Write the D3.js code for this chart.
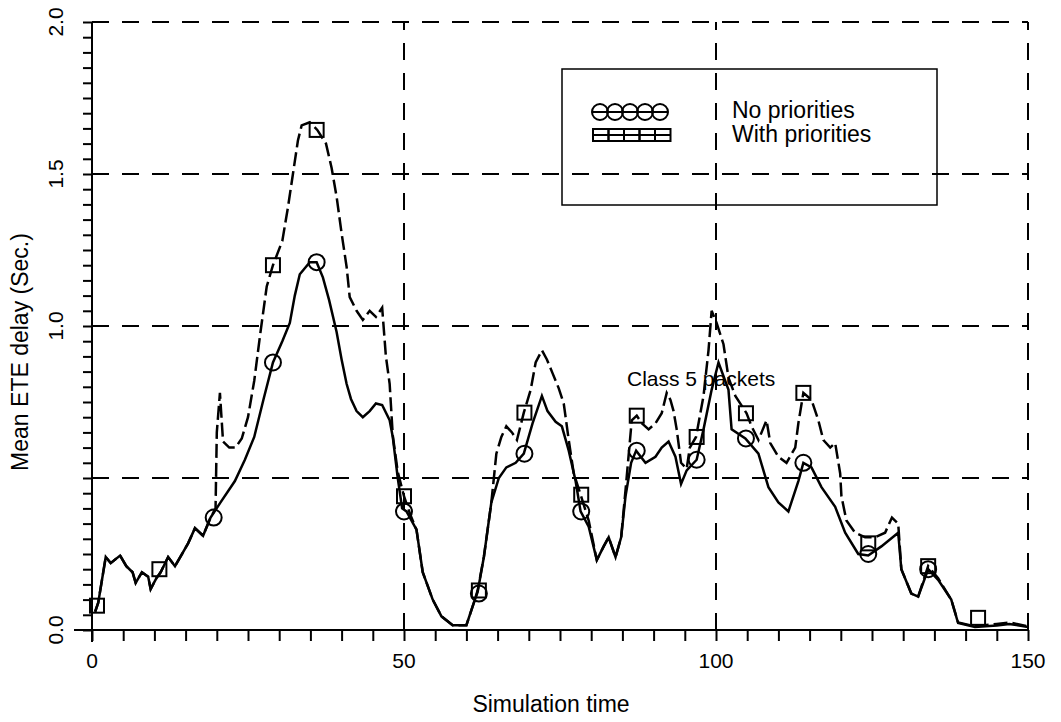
<!DOCTYPE html>
<html lang="en">
<head>
    <meta charset="UTF-8">
    <title>Mean ETE delay - Class 5 packets</title>
    <script src="https://d3js.org/d3.v7.min.js"></script>
    <style>
        body { margin: 0; background: #fff; }
        text { font-family: "Liberation Sans", Arial, Helvetica, sans-serif; fill: #000; }
    </style>
</head>
<body>
    <svg id="chart" width="1061" height="722"></svg>

    <script>
        // --- data ---
        // No priorities (solid line)
        var noPrioT = [0.5, 1, 2.2, 3, 4.5, 5.5, 6.5, 7, 8, 9, 9.4, 10.3, 11, 12.2, 13.3, 15.4, 16.5, 17.8, 19, 20.6,
            22.9, 24.5, 26, 27.5, 29, 30.5, 31.7, 32.5, 33.3, 34.9, 36, 37, 38, 39.2, 40, 40.8, 41.5, 42.4, 43.4, 44.5,
            45.5, 46.5, 47.7, 48.2, 49, 49.7, 50.4, 52, 53, 54.6, 56, 57.8, 60, 61.2, 61.8, 62.8, 64, 65.2, 66.4, 67.9,
            69.2, 70.6, 72.1, 73, 74.3, 75.3, 76.4, 77.5, 78.3, 79.6, 80.9, 82, 82.8, 83.9, 84.8, 85.5, 86.4, 87.2, 88.7, 90.3,
            91.3, 92.4, 93.5, 94.4, 95.3, 96.9, 98, 99.3, 100.4, 102, 102.5, 104.7, 106.8, 108.4, 110, 111.6, 113.2, 114, 115.3, 116.9,
            119.1, 120.7, 122.8, 124.4, 126.5, 129.2, 129.7, 131.3, 132.4, 134, 135.6, 137.7, 138.8, 141.5, 145, 147, 150];
        var noPrioV = [0.06, 0.09, 0.24, 0.22, 0.245, 0.21, 0.19, 0.155, 0.19, 0.175, 0.135, 0.17, 0.19, 0.24, 0.21, 0.285, 0.335, 0.31, 0.37, 0.42,
            0.49, 0.56, 0.635, 0.76, 0.88, 0.95, 1.01, 1.1, 1.17, 1.21, 1.21, 1.16, 1.085, 0.98, 0.89, 0.81, 0.76, 0.72, 0.70, 0.72,
            0.745, 0.74, 0.69, 0.635, 0.5, 0.40, 0.39, 0.33, 0.19, 0.1, 0.045, 0.016, 0.016, 0.09, 0.125, 0.24, 0.42, 0.50, 0.535, 0.55,
            0.58, 0.68, 0.77, 0.72, 0.685, 0.67, 0.59, 0.49, 0.39, 0.34, 0.23, 0.275, 0.305, 0.24, 0.305, 0.44, 0.55, 0.59, 0.55, 0.57,
            0.60, 0.62, 0.57, 0.48, 0.525, 0.56, 0.66, 0.79, 0.88, 0.79, 0.66, 0.63, 0.58, 0.47, 0.42, 0.39, 0.49, 0.55, 0.535, 0.47,
            0.405, 0.32, 0.25, 0.245, 0.275, 0.32, 0.2, 0.12, 0.11, 0.2, 0.165, 0.1, 0.023, 0.01, 0.015, 0.02, 0.01];

        // With priorities (dashed line)
        var withPrioT = [0.5, 1, 2.2, 3, 4.5, 5.5, 6.5, 7, 8, 9, 9.4, 10.3, 11, 12.2, 13.3, 15.4, 16.5, 17.8, 19, 19.8,
            20, 20.5, 21, 22, 23, 24, 25, 26, 27, 28, 29, 30.5, 31.4, 32.2, 33, 33.6, 34.9, 36.1, 37.5, 38.4,
            39.2, 40, 40.8, 41.3, 42.4, 43.4, 44.5, 45.5, 46.5, 47.1, 47.7, 48.2, 49, 50, 51, 52, 53, 54.6, 56, 57.8,
            60, 61.2, 61.8, 62.8, 64, 64.8, 65.6, 66.4, 67.3, 68.1, 69.2, 70.3, 71.1, 72.1, 72.9, 73.8, 74.8, 75.6, 76.4, 77.2,
            78.3, 79.6, 80.9, 82, 82.8, 83.9, 84.8, 85.5, 86.5, 87.3, 88.1, 89.2, 90.3, 91.3, 92.1, 92.7, 93.2, 93.7, 94.4, 95.3,
            95.8, 96.8, 98, 98.8, 99.3, 100.1, 101.2, 102, 103.1, 104.9, 105.7, 106.8, 108.1, 108.7, 110, 111.3, 112.7, 113.2, 114, 115.3,
            116.4, 117.2, 118.3, 119.1, 119.9, 120.1, 120.9, 122.3, 123.9, 125.5, 127.1, 128.2, 129.2, 129.7, 131.3, 132.4, 134, 135.6, 137.7, 138.8,
            141.5, 145, 147, 150];
        var withPrioV = [0.06, 0.09, 0.24, 0.22, 0.245, 0.21, 0.19, 0.155, 0.19, 0.175, 0.135, 0.17, 0.19, 0.24, 0.21, 0.285, 0.335, 0.31, 0.37, 0.40,
            0.65, 0.78, 0.62, 0.6, 0.6, 0.63, 0.7, 0.82, 0.98, 1.13, 1.2, 1.28, 1.39, 1.5, 1.61, 1.66, 1.67, 1.645, 1.6, 1.52,
            1.425, 1.305, 1.195, 1.095, 1.05, 1.02, 1.05, 1.03, 1.06, 0.9, 0.81, 0.64, 0.52, 0.44, 0.38, 0.33, 0.19, 0.1, 0.045, 0.016,
            0.016, 0.09, 0.13, 0.24, 0.42, 0.58, 0.635, 0.67, 0.65, 0.625, 0.715, 0.79, 0.88, 0.92, 0.89, 0.845, 0.795, 0.745, 0.625, 0.515,
            0.445, 0.36, 0.23, 0.275, 0.305, 0.24, 0.305, 0.46, 0.69, 0.705, 0.68, 0.66, 0.68, 0.713, 0.78, 0.757, 0.72, 0.66, 0.55, 0.53,
            0.6, 0.635, 0.77, 0.92, 1.05, 1.01, 0.94, 0.83, 0.77, 0.713, 0.67, 0.625, 0.69, 0.615, 0.57, 0.55, 0.60, 0.68, 0.78, 0.757,
            0.69, 0.625, 0.60, 0.615, 0.515, 0.44, 0.36, 0.32, 0.305, 0.305, 0.32, 0.37, 0.35, 0.2, 0.12, 0.11, 0.21, 0.17, 0.1, 0.025,
            0.012, 0.02, 0.025, 0.012];

        // marker positions
        var circleT = [19.5, 29, 36, 50, 62, 69.3, 78.4, 87.3, 96.9, 104.8, 114, 124.4, 134];
        var circleV = [0.37, 0.88, 1.21, 0.39, 0.12, 0.58, 0.39, 0.59, 0.56, 0.63, 0.55, 0.25, 0.2];
        var squareT = [0.8, 10.8, 29, 36, 50, 62, 69.3, 78.4, 87.3, 96.9, 104.8, 114, 124.4, 134, 142];
        var squareV = [0.08, 0.2, 1.2, 1.645, 0.44, 0.13, 0.715, 0.445, 0.705, 0.635, 0.713, 0.78, 0.285, 0.21, 0.04];

        var xTickLabels = [0, 50, 100, 150];
        var yTickLabels = [0, 1.0, 1.5, 2.0];
        var gridY = [0.5, 1.0, 1.5, 2.0];
        var gridX = [50, 100, 150];
        var seriesNames = ['No priorities', 'With priorities'];

        // --- drawing ---
        var svg = d3.select('#chart');

        var xScale = d3.scaleLinear().domain([0, 150]).range([92, 1028]);
        var yScale = d3.scaleLinear().domain([0, 2]).range([630, 22]);

        // dashed grid lines
        svg.selectAll('.gridy')
            .data(gridY)
            .enter()
            .append('line')
            .attr('x1', xScale(0))
            .attr('x2', xScale(150))
            .attr('y1', d => yScale(d))
            .attr('y2', d => yScale(d))
            .attr('stroke', '#000')
            .attr('stroke-width', 2)
            .attr('stroke-dasharray', '17,13');

        svg.selectAll('.gridx')
            .data(gridX)
            .enter()
            .append('line')
            .attr('x1', d => xScale(d))
            .attr('x2', d => xScale(d))
            .attr('y1', yScale(0))
            .attr('y2', yScale(2))
            .attr('stroke', '#000')
            .attr('stroke-width', 2)
            .attr('stroke-dasharray', '17,13');

        // axes with minor ticks
        var xAxis = d3.axisBottom(xScale)
            .tickValues(d3.range(0, 151, 5))
            .tickSize(11)
            .tickFormat('');
        svg.append('g')
            .attr('transform', 'translate(0,' + yScale(0) + ')')
            .call(xAxis)
            .call(g => g.select('.domain').attr('d', 'M' + (xScale(0) - 18) + ',0H' + xScale(150)))
            .call(g => g.selectAll('line, path').attr('stroke', '#000').attr('stroke-width', 2));

        var yAxis = d3.axisLeft(yScale)
            .tickValues(d3.range(0, 41).map(i => i * 0.05))
            .tickSize(9)
            .tickFormat('');
        svg.append('g')
            .attr('transform', 'translate(' + xScale(0) + ',0)')
            .call(yAxis)
            .call(g => g.select('.domain').attr('d', 'M0,' + yScale(2) + 'V' + (yScale(0) + 12)))
            .call(g => g.selectAll('line, path').attr('stroke', '#000').attr('stroke-width', 2));

        // tick labels
        svg.selectAll('.xlab')
            .data(xTickLabels)
            .enter()
            .append('text')
            .attr('x', d => xScale(d))
            .attr('y', 668)
            .attr('text-anchor', 'middle')
            .style('font-size', '21px')
            .text(d => d);

        svg.selectAll('.ylab')
            .data(yTickLabels)
            .enter()
            .append('text')
            .attr('transform', d => 'translate(63,' + yScale(d) + ') rotate(-90)')
            .attr('text-anchor', 'middle')
            .style('font-size', '21px')
            .text(d => d3.format('.1f')(d));

        // axis titles
        svg.append('text')
            .attr('x', 551)
            .attr('y', 712)
            .attr('text-anchor', 'middle')
            .style('font-size', '23px')
            .text('Simulation time');

        svg.append('text')
            .attr('transform', 'translate(28,352) rotate(-90)')
            .attr('text-anchor', 'middle')
            .style('font-size', '23px')
            .text('Mean ETE delay (Sec.)');

        svg.append('text')
            .attr('x', 627)
            .attr('y', 386)
            .style('font-size', '21px')
            .text('Class 5 packets');

        // series lines
        var line = d3.line()
            .x(d => xScale(d[0]))
            .y(d => yScale(d[1]));

        svg.append('path')
            .datum(d3.zip(withPrioT, withPrioV))
            .attr('d', line)
            .attr('fill', 'none')
            .attr('stroke', '#000')
            .attr('stroke-width', 2.5)
            .attr('stroke-dasharray', '14,5');

        svg.append('path')
            .datum(d3.zip(noPrioT, noPrioV))
            .attr('d', line)
            .attr('fill', 'none')
            .attr('stroke', '#000')
            .attr('stroke-width', 2.5);

        // markers
        svg.selectAll('.circ')
            .data(d3.zip(circleT, circleV))
            .enter()
            .append('circle')
            .attr('cx', d => xScale(d[0]))
            .attr('cy', d => yScale(d[1]))
            .attr('r', 8)
            .attr('fill', 'none')
            .attr('stroke', '#000')
            .attr('stroke-width', 2);

        svg.selectAll('.sq')
            .data(d3.zip(squareT, squareV))
            .enter()
            .append('rect')
            .attr('x', d => xScale(d[0]) - 7)
            .attr('y', d => yScale(d[1]) - 7)
            .attr('width', 14)
            .attr('height', 14)
            .attr('fill', 'none')
            .attr('stroke', '#000')
            .attr('stroke-width', 2);

        // legend
        var legend = svg.append('g');
        legend.append('rect')
            .attr('x', 562)
            .attr('y', 69)
            .attr('width', 375)
            .attr('height', 136)
            .attr('fill', 'none')
            .attr('stroke', '#000')
            .attr('stroke-width', 1.5);

        legend.append('line')
            .attr('x1', 592).attr('x2', 668)
            .attr('y1', 112).attr('y2', 112)
            .attr('stroke', '#000').attr('stroke-width', 2);
        legend.selectAll('.lc')
            .data(d3.range(5))
            .enter()
            .append('circle')
            .attr('cx', i => 600 + i * 15)
            .attr('cy', 112)
            .attr('r', 8)
            .attr('fill', 'none')
            .attr('stroke', '#000')
            .attr('stroke-width', 2);

        legend.append('line')
            .attr('x1', 592).attr('x2', 670)
            .attr('y1', 135).attr('y2', 135)
            .attr('stroke', '#000').attr('stroke-width', 2);
        legend.selectAll('.ls')
            .data(d3.range(5))
            .enter()
            .append('rect')
            .attr('x', i => 593 + i * 15.5)
            .attr('y', 129)
            .attr('width', 15.5)
            .attr('height', 12)
            .attr('fill', 'none')
            .attr('stroke', '#000')
            .attr('stroke-width', 2);

        legend.selectAll('.lt')
            .data(seriesNames)
            .enter()
            .append('text')
            .attr('x', 732)
            .attr('y', (d, i) => 118 + i * 24)
            .style('font-size', '23px')
            .text(d => d);
    </script>
</body>
</html>
